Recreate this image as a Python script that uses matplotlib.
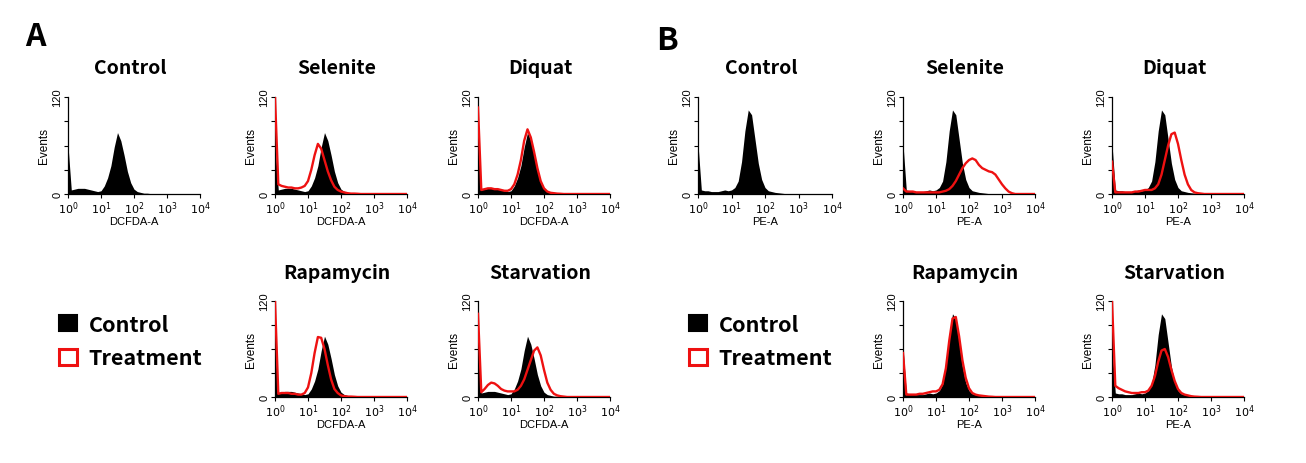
import numpy as np
import matplotlib
matplotlib.use("Agg")
import matplotlib.pyplot as plt
from matplotlib.patches import Patch
from matplotlib.ticker import LogLocator, NullFormatter, FixedLocator

# Histogram channels: log10 of fluorescence, 0.0 .. 4.0 in steps of 0.1
log_channels = np.round(np.arange(0, 4.01, 0.1), 1)

# ---- Panel A: DCFDA-A ----
ctrl_a = [60, 5, 6, 7, 7, 7, 6, 5, 4, 3, 4, 10, 20, 35, 58, 76, 66, 48, 28, 14,
          6, 3, 2, 1, 1, 0.5, 0.3, 0, 0, 0, 0, 0, 0, 0, 0, 0, 0, 0, 0, 0, 0]
selenite_a = [120, 12, 10, 9, 8, 8, 7, 7, 8, 10, 16, 30, 48, 62, 56, 42, 28, 17, 9, 5,
              3, 2, 1, 0.5, 0.5, 0.3, 0, 0, 0, 0, 0, 0, 0, 0, 0, 0, 0, 0, 0, 0, 0]
diquat_a = [107, 5, 6, 7, 7, 6, 6, 5, 4, 4, 6, 12, 24, 42, 66, 80, 70, 52, 32, 16,
            7, 3, 1.5, 1, 0.5, 0.3, 0, 0, 0, 0, 0, 0, 0, 0, 0, 0, 0, 0, 0, 0, 0]
rapamycin_a = [120, 4, 5, 5, 5, 4, 4, 3, 3, 5, 12, 30, 55, 75, 74, 60, 40, 22, 10, 5,
               2, 1, 0.5, 0.5, 0.3, 0, 0, 0, 0, 0, 0, 0, 0, 0, 0, 0, 0, 0, 0, 0, 0]
starvation_a = [104, 6, 10, 15, 18, 17, 14, 10, 8, 7, 7, 7, 9, 14, 22, 34, 46, 58, 62, 52,
                34, 18, 9, 4, 2, 1, 0.5, 0, 0, 0, 0, 0, 0, 0, 0, 0, 0, 0, 0, 0, 0]

# ---- Panel B: PE-A ----
ctrl_b = [62, 5, 4, 4, 3, 3, 3, 4, 5, 4, 5, 8, 16, 40, 78, 104, 98, 68, 38, 18,
          8, 4, 3, 2, 1.5, 1, 0.5, 0.3, 0, 0, 0, 0, 0, 0, 0, 0, 0, 0, 0, 0, 0]
selenite_b = [7, 3, 3, 3, 2, 2, 2, 2, 2, 2, 2, 2, 3, 4, 6, 10, 16, 24, 32, 38,
              42, 44, 42, 36, 32, 30, 28, 27, 24, 18, 12, 7, 3, 1, 0, 0, 0, 0, 0, 0, 0]
diquat_b = [40, 2, 2, 2, 2, 2, 2, 3, 3, 4, 5, 5, 5, 7, 12, 24, 42, 60, 74, 76,
            62, 42, 24, 12, 5, 2, 1, 0.5, 0, 0, 0, 0, 0, 0, 0, 0, 0, 0, 0, 0, 0]
rapamycin_b = [55, 3, 3, 3, 3, 4, 4, 5, 6, 7, 7, 9, 16, 36, 70, 98, 100, 76, 46, 24,
               11, 5, 3, 2, 1.5, 1, 0.5, 0.3, 0, 0, 0, 0, 0, 0, 0, 0, 0, 0, 0, 0, 0]
starvation_b = [120, 14, 11, 9, 7, 6, 5, 5, 5, 6, 6, 8, 14, 26, 44, 58, 60, 50, 34, 20,
                10, 5, 3, 2, 1, 0.5, 0.3, 0, 0, 0, 0, 0, 0, 0, 0, 0, 0, 0, 0, 0, 0]

titles = ["Control", "Selenite", "Diquat", "Rapamycin", "Starvation"]
panels = [
    {"label": "A", "xlabel": "DCFDA-A", "control": ctrl_a,
     "treated": [None, selenite_a, diquat_a, rapamycin_a, starvation_a]},
    {"label": "B", "xlabel": "PE-A", "control": ctrl_b,
     "treated": [None, selenite_b, diquat_b, rapamycin_b, starvation_b]},
]

W, H = 1306, 464
fig = plt.figure(figsize=(W / 100, H / 100), dpi=100)
plt.rcParams["font.family"] = ["Liberation Sans", "DejaVu Sans"]
title_font = ["Noto Sans CJK KR", "DejaVu Sans"]

# pixel boxes of the small axes (left, right) per panel and (top, bottom) per row
col_px = [[(68, 200), (275, 407), (478, 610)],
          [(698, 832), (903, 1035), (1112, 1244)]]
row_px = [(98, 195), (302, 398)]
# (row, col) of each histogram
slots = [(0, 0), (0, 1), (0, 2), (1, 1), (1, 2)]


def hist_axes(x0, x1, y0, y1):
    return fig.add_axes([x0 / W, 1 - y1 / H, (x1 - x0) / W, (y1 - y0) / H])


xvals = 10 ** log_channels
for p, panel in enumerate(panels):
    for k, title in enumerate(titles):
        r, c = slots[k]
        (x0, x1), (y0, y1) = col_px[p][c], row_px[r]
        ax = hist_axes(x0, x1, y0, y1)
        ax.fill_between(xvals, 0, panel["control"], color="black", lw=0, zorder=2)
        if panel["treated"][k] is not None:
            ax.plot(xvals, panel["treated"][k], color="#ee1111", lw=1.7, zorder=3)
        ax.set_xscale("log")
        ax.set_xlim(1, 1e4)
        ax.set_ylim(0, 120)
        for s in ["top", "right"]:
            ax.spines[s].set_visible(False)
        for s in ["left", "bottom"]:
            ax.spines[s].set_linewidth(0.9)
        ax.xaxis.set_major_locator(FixedLocator([1, 10, 100, 1000, 10000]))
        ax.set_xticklabels([r"$10^{0}$", r"$10^{1}$", r"$10^{2}$", r"$10^{3}$", r"$10^{4}$"])
        ax.xaxis.set_minor_locator(LogLocator(base=10, subs=np.arange(2, 10)))
        ax.xaxis.set_minor_formatter(NullFormatter())
        ax.set_yticks([0, 30, 60, 90, 120])
        ax.set_yticklabels(["0", "", "", "", "120"], rotation=90, va="center")
        ax.tick_params(axis="both", which="major", length=3, width=0.8, labelsize=8, pad=1)
        ax.tick_params(axis="x", which="minor", length=1.8, width=0.6)
        ax.set_ylabel("Events", fontsize=8.5, labelpad=2)
        ax.set_xlabel(panel["xlabel"], fontsize=8, labelpad=0)
        ax.text(0.47, 1.3, title, transform=ax.transAxes, ha="center", va="center",
                fontsize=14, fontweight="bold", family=title_font)

# panel letters
fig.text(35 / W, 1 - 37 / H, "A", fontsize=23, fontweight="bold", ha="center", va="center",
         family=title_font)
fig.text(667 / W, 1 - 41 / H, "B", fontsize=23, fontweight="bold", ha="center", va="center",
         family=title_font)

# legends
handles = [Patch(facecolor="black", edgecolor="black", lw=1.5),
           Patch(facecolor="white", edgecolor="#ee1111", lw=2.2)]
for lx in [40, 670]:
    fig.legend(handles, ["Control", "Treatment"], loc="center left",
               bbox_to_anchor=(lx / W, 1 - 342 / H), frameon=False,
               handlelength=0.8, handleheight=0.8, handletextpad=0.55, labelspacing=0.6,
               prop={"family": title_font, "weight": "bold", "size": 15.5})

fig.savefig("out.png", dpi=100, facecolor="white")
